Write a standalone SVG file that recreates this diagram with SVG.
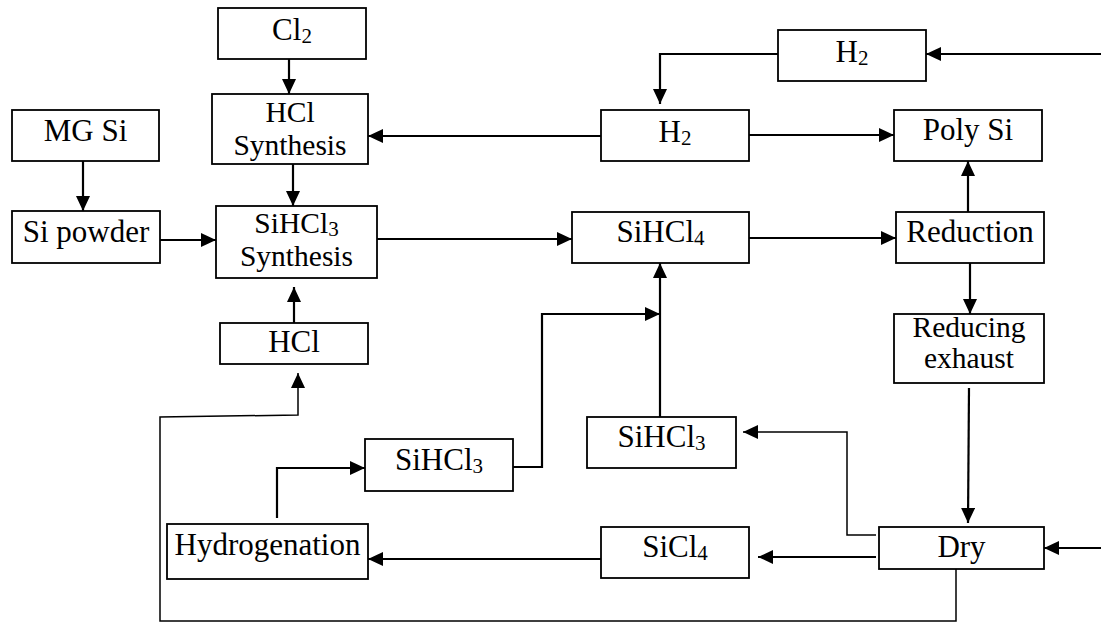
<svg xmlns="http://www.w3.org/2000/svg" width="1101" height="623" viewBox="0 0 1101 623">
<style>
.box{fill:#fff;stroke:#000;stroke-width:1.8}
.t{font-family:"Liberation Serif","Times New Roman",serif;font-size:31px;fill:#000;text-anchor:middle}
.t2{font-size:29.5px}
.s{font-size:21px}
.c{fill:none;stroke:#000;stroke-width:2.2}
.thin{stroke-width:1.5}
</style>
<defs>
<marker id="ah" markerUnits="userSpaceOnUse" markerWidth="15" markerHeight="14" refX="15" refY="7" orient="auto">
<path d="M0,0 L15,7 L0,14 z" fill="#000"/>
</marker>
</defs>
<rect width="1101" height="623" fill="#fff"/>
<g id="connectors">
<path class="c" d="M289,59 V94" marker-end="url(#ah)"/>
<path class="c" d="M293,164 V206" marker-end="url(#ah)"/>
<path class="c" d="M83,161 V211" marker-end="url(#ah)"/>
<path class="c" d="M160,240 H216" marker-end="url(#ah)"/>
<path class="c" d="M601,136 H368" marker-end="url(#ah)"/>
<path class="c" d="M778,54 H660 V104" marker-end="url(#ah)"/>
<path class="c" d="M1101,54 H926" marker-end="url(#ah)"/>
<path class="c" d="M749,135 H894" marker-end="url(#ah)"/>
<path class="c" d="M377,239 H572" marker-end="url(#ah)"/>
<path class="c" d="M749,238 H896" marker-end="url(#ah)"/>
<path class="c" d="M968,212 V161" marker-end="url(#ah)"/>
<path class="c" d="M970,263 V314" marker-end="url(#ah)"/>
<path class="c" d="M969,388 L968,523" marker-end="url(#ah)"/>
<path class="c" d="M1101,548 H1044" marker-end="url(#ah)"/>
<path class="c" d="M876,557 H758" marker-end="url(#ah)"/>
<path class="c thin" d="M876,535 H847 V432 H743" marker-end="url(#ah)"/>
<path class="c" d="M601,559 H368" marker-end="url(#ah)"/>
<path class="c" d="M277,518 V468 H365" marker-end="url(#ah)"/>
<path class="c" d="M513,467 H542 V314 H660" marker-end="url(#ah)"/>
<path class="c" d="M660,417 V263" marker-end="url(#ah)"/>
<path class="c thin" d="M956,569 V621 H160 V417 L298,415 V373" marker-end="url(#ah)"/>
<path class="c" d="M294,323 V287" marker-end="url(#ah)"/>
</g>
<g id="cl2"><rect class="box" x="218" y="8" width="148" height="51"/><text class="t" x="292" y="40">Cl<tspan class="s" dy="3">2</tspan></text></g>
<g id="hcl-synthesis"><rect class="box" x="212" y="94" width="156" height="70"/><text class="t t2" x="290" y="122">HCl</text><text class="t t2" x="290" y="155">Synthesis</text></g>
<g id="mg-si"><rect class="box" x="12" y="110" width="147" height="51"/><text class="t" x="85.5" y="141">MG Si</text></g>
<g id="si-powder"><rect class="box" x="12" y="211" width="148" height="52"/><text class="t" x="86" y="242">Si powder</text></g>
<g id="sihcl3-synthesis"><rect class="box" x="216" y="206" width="161" height="72"/><text class="t t2" x="296.5" y="233">SiHCl<tspan class="s" dy="3">3</tspan></text><text class="t t2" x="296.5" y="266">Synthesis</text></g>
<g id="hcl"><rect class="box" x="220" y="323" width="148" height="41"/><text class="t" x="294" y="352">HCl</text></g>
<g id="h2-top"><rect class="box" x="778" y="30" width="148" height="51"/><text class="t" x="852" y="62">H<tspan class="s" dy="3">2</tspan></text></g>
<g id="h2"><rect class="box" x="601" y="110" width="148" height="51"/><text class="t" x="675" y="142">H<tspan class="s" dy="3">2</tspan></text></g>
<g id="poly-si"><rect class="box" x="894" y="110" width="148" height="51"/><text class="t" x="968" y="140">Poly Si</text></g>
<g id="sihcl4"><rect class="box" x="572" y="212" width="177" height="51"/><text class="t" x="660.5" y="242">SiHCl<tspan class="s" dy="3">4</tspan></text></g>
<g id="reduction"><rect class="box" x="896" y="212" width="148" height="51"/><text class="t" x="970" y="242">Reduction</text></g>
<g id="reducing-exhaust"><rect class="box" x="894" y="314" width="150" height="69"/><text class="t t2" x="969" y="337">Reducing</text><text class="t t2" x="969" y="368">exhaust</text></g>
<g id="sihcl3-left"><rect class="box" x="365" y="439" width="148" height="52"/><text class="t" x="439" y="470">SiHCl<tspan class="s" dy="3">3</tspan></text></g>
<g id="sihcl3-right"><rect class="box" x="587" y="417" width="149" height="51"/><text class="t" x="661.5" y="447">SiHCl<tspan class="s" dy="3">3</tspan></text></g>
<g id="hydrogenation"><rect class="box" x="167" y="524" width="201" height="55"/><text class="t" x="267.5" y="555">Hydrogenation</text></g>
<g id="sicl4"><rect class="box" x="601" y="527" width="148" height="51"/><text class="t" x="675" y="557">SiCl<tspan class="s" dy="3">4</tspan></text></g>
<g id="dry"><rect class="box" x="879" y="527" width="165" height="42"/><text class="t" x="961.5" y="557">Dry</text></g>
</svg>
